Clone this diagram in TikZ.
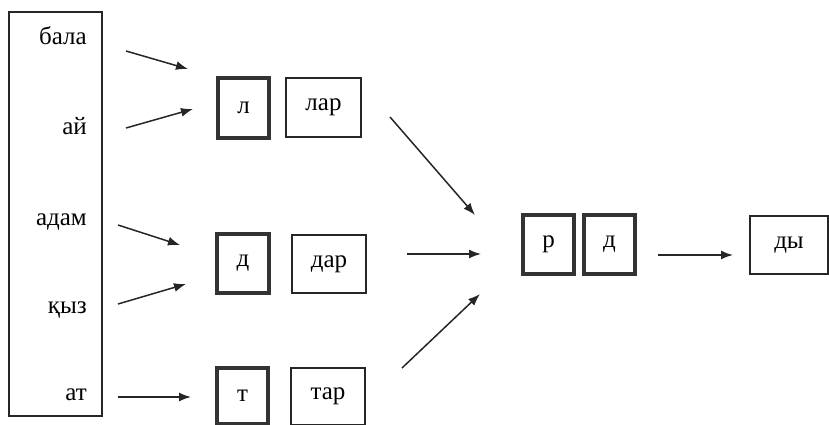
\documentclass[tikz,border=0pt]{standalone}
\usepackage{fontspec}
\setmainfont{Liberation Serif}
\usetikzlibrary{arrows.meta}
\begin{document}
\begin{tikzpicture}[x=1pt,y=-1pt,
  every node/.style={font=\fontsize{25}{28}\selectfont, inner sep=0pt},
  thin box/.style={draw=black!85, line width=1.3pt},
  thick box/.style={draw=black!80, line width=4pt},
  word/.style={anchor=base east},
  arr/.style={draw=black!85, line width=1.5pt, -{Latex[length=12pt,width=9pt]}}]
\useasboundingbox (0,0) rectangle (829,425);
% left list box
\node[thin box, minimum width=93pt, minimum height=404pt] (list) at (55.5,214) {};
\node[word] (w1) at (87,45) {бала};
\node[word] (w2) at (87,135) {ай};
\node[word] (w3) at (87,225) {адам};
\node[word] (w4) at (87,313) {қыз};
\node[word] (w5) at (87,400) {ат};
% middle boxes
\node[thick box, minimum width=51pt, minimum height=60pt] (l) at (243.5,108) {л};
\node[thin box, minimum width=75pt, minimum height=59pt] (lar) at (323.5,107.5) {лар};
\node[thick box, minimum width=52pt, minimum height=59pt] (d) at (243,263.5) {д};
\node[thin box, minimum width=74pt, minimum height=58pt] (dar) at (329,264) {дар};
\node[thick box, minimum width=51pt, minimum height=56pt] (t) at (242.5,396) {т};
\node[thin box, minimum width=74pt, minimum height=57pt] (tar) at (328,396.5) {тар};
% right boxes
\node[thick box, minimum width=51pt, minimum height=59pt] (r) at (548.5,244.5) {р};
\node[thick box, minimum width=51pt, minimum height=59pt] (d2) at (609.5,244.5) {д};
\node[thin box, minimum width=78pt, minimum height=58pt] (dy) at (789,245) {ды};
% arrow end points
\coordinate (a1s) at (126,51);  \coordinate (a1e) at (188,69);
\coordinate (a2s) at (126,128); \coordinate (a2e) at (193,109);
\coordinate (a3s) at (118,225); \coordinate (a3e) at (180,245);
\coordinate (a4s) at (118,304); \coordinate (a4e) at (186,284);
\coordinate (a5s) at (118,397); \coordinate (a5e) at (191,397);
\coordinate (b1s) at (390,117); \coordinate (b1e) at (475,215);
\coordinate (b2s) at (407,254); \coordinate (b2e) at (481,254);
\coordinate (b3s) at (402,368); \coordinate (b3e) at (480,294);
\coordinate (cs) at (658,255);  \coordinate (ce) at (733,255);
\draw[arr] (a1s) -- (a1e);
\draw[arr] (a2s) -- (a2e);
\draw[arr] (a3s) -- (a3e);
\draw[arr] (a4s) -- (a4e);
\draw[arr] (a5s) -- (a5e);
\draw[arr] (b1s) -- (b1e);
\draw[arr] (b2s) -- (b2e);
\draw[arr] (b3s) -- (b3e);
\draw[arr] (cs) -- (ce);
\end{tikzpicture}
\end{document}
